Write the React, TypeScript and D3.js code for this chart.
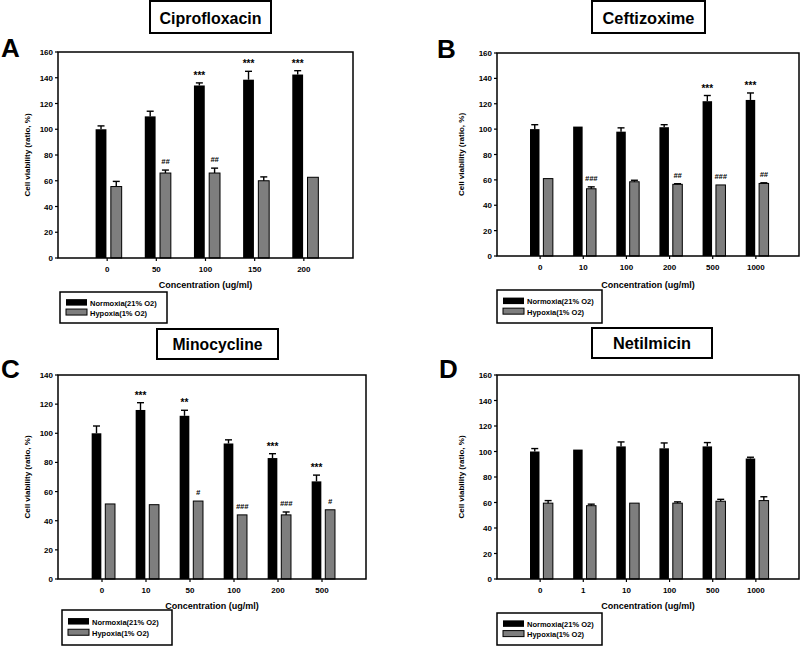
import React from "react";
import * as d3 from "d3";

// ---------- data ----------
const catsA = ["0", "50", "100", "150", "200"];
const normA = [100, 110, 134, 138.5, 142.5];
const normErrA = [2.6, 4, 2, 6.5, 3];
const hypA = [55.5, 66, 66, 60, 62.7];
const hypErrA = [4, 2.3, 3.8, 3, 0];
const normAnnA = ["", "", "***", "***", "***"];
const hypAnnA = ["", "##", "##", "", ""];

const catsB = ["0", "10", "100", "200", "500", "1000"];
const normB = [100, 102, 98, 101.5, 122, 123];
const normErrB = [3.5, 0, 3, 2, 4.5, 5.5];
const hypB = [61, 53, 58.5, 56.5, 56, 57.2];
const hypErrB = [0, 1.5, 1.2, 0.5, 0, 0.5];
const normAnnB = ["", "", "", "", "***", "***"];
const hypAnnB = ["", "###", "", "##", "###", "##"];

const catsC = ["0", "10", "50", "100", "200", "500"];
const normC = [100, 116, 112, 93, 83, 67];
const normErrC = [5, 5, 3.8, 2.5, 3, 4.3];
const hypC = [51.5, 51, 53.5, 44, 44, 47.5];
const hypErrC = [0, 0, 0, 0, 2, 0];
const normAnnC = ["", "***", "**", "", "***", "***"];
const hypAnnC = ["", "", "#", "###", "###", "#"];

const catsD = ["0", "1", "10", "100", "500", "1000"];
const normD = [100, 101.5, 104, 102.5, 104, 94.5];
const normErrD = [2.3, 0, 3.5, 4.2, 3, 1];
const hypD = [59.5, 57.5, 59.5, 59.5, 61, 61.5];
const hypErrD = [2, 1.2, 0, 1, 1.5, 3];
const normAnnD = ["", "", "", "", "", ""];
const hypAnnD = ["", "", "", "", "", ""];

const legendLabels = ["Normoxia(21% O2)", "Hypoxia(1% O2)"];
const xLabel = "Concentration (ug/ml)";
const yLabel = "Cell viability (ratio, %)";

const FONT = "'Liberation Sans', Arial, Helvetica, sans-serif";
const GRAY = "#7e7e7e";

type PanelProps = {
  title: string;
  letter: string;
  cats: string[];
  norm: number[];
  normErr: number[];
  hyp: number[];
  hypErr: number[];
  normAnn: string[];
  hypAnn: string[];
  ymax: number;
  plot: { x0: number; x1: number; y0: number; y1: number };
  titleBox: { x0: number; x1: number; y0: number; y1: number; tw: number };
  letterPos: { x: number; y: number };
  legend: { x0: number; x1: number; y0: number; y1: number };
  yLabelX: number;
  xLabelY: number;
};

function Panel(p: PanelProps) {
  const x = d3.scalePoint<string>().domain(p.cats).range([p.plot.x0, p.plot.x1]).padding(1);
  const y = d3.scaleLinear().domain([0, p.ymax]).range([p.plot.y1, p.plot.y0]);
  const step = x.step();
  const bw = step * 0.22;
  const ticks = d3.range(0, p.ymax + 1, 20);
  const capW = 3.5;
  const cx = (p.plot.x0 + p.plot.x1) / 2;
  const cy = (p.plot.y0 + p.plot.y1) / 2;

  const bars = (vals: number[], errs: number[], anns: string[], off: number, fill: string, isNorm: boolean) =>
    vals.map((v, i) => {
      const c = x(p.cats[i])!;
      const bx = c + off;
      const mid = bx + bw / 2;
      const top = y(v);
      const etop = y(v + errs[i]);
      return (
        <g key={(isNorm ? "n" : "h") + i}>
          <rect x={bx} y={top} width={bw} height={p.plot.y1 - top} fill={fill} stroke="#000" strokeWidth={isNorm ? 0 : 1} />
          {errs[i] > 0 && (
            <g stroke="#000" strokeWidth={1.4}>
              <line x1={mid} x2={mid} y1={top} y2={etop} />
              <line x1={mid - capW} x2={mid + capW} y1={etop} y2={etop} />
            </g>
          )}
          {anns[i] && (
            <text
              x={mid}
              y={isNorm ? etop - 4 : etop - 6}
              textAnchor="middle"
              fontSize={isNorm ? 10 : 7.5}
              fontWeight="bold"
              fontStyle={isNorm ? "normal" : "italic"}
              fontFamily={FONT}
            >
              {anns[i]}
            </text>
          )}
        </g>
      );
    });

  const lg = p.legend;
  const lh = lg.y1 - lg.y0;
  return (
    <g fontFamily={FONT}>
      {/* title */}
      <rect x={p.titleBox.x0} y={p.titleBox.y0} width={p.titleBox.x1 - p.titleBox.x0} height={p.titleBox.y1 - p.titleBox.y0} fill="#fff" stroke="#000" strokeWidth={2} />
      <text
        x={(p.titleBox.x0 + p.titleBox.x1) / 2}
        y={p.titleBox.y1 - 9}
        textAnchor="middle"
        fontSize={17}
        fontWeight="bold"
        textLength={p.titleBox.tw}
        lengthAdjust="spacingAndGlyphs"
      >
        {p.title}
      </text>
      <text x={p.letterPos.x} y={p.letterPos.y} fontSize={26} fontWeight="bold">
        {p.letter}
      </text>

      {/* bars */}
      {bars(p.norm, p.normErr, p.normAnn, -step * 0.235, "#000", true)}
      {bars(p.hyp, p.hypErr, p.hypAnn, step * 0.075, GRAY, false)}

      {/* frame */}
      <rect x={p.plot.x0} y={p.plot.y0} width={p.plot.x1 - p.plot.x0} height={p.plot.y1 - p.plot.y0} fill="none" stroke="#000" strokeWidth={1.5} />

      {/* y axis */}
      {ticks.map((t) => (
        <g key={"yt" + t}>
          <line x1={p.plot.x0 - 3} x2={p.plot.x0} y1={y(t)} y2={y(t)} stroke="#000" strokeWidth={1.2} />
          <text x={p.plot.x0 - 5} y={y(t) + 3} textAnchor="end" fontSize={8} fontWeight="bold">
            {t}
          </text>
        </g>
      ))}
      {/* x axis */}
      {p.cats.map((c) => (
        <g key={"xt" + c}>
          <line x1={x(c)!} x2={x(c)!} y1={p.plot.y1} y2={p.plot.y1 + 3} stroke="#000" strokeWidth={1.2} />
          <text x={x(c)!} y={p.plot.y1 + 14} textAnchor="middle" fontSize={8} fontWeight="bold">
            {c}
          </text>
        </g>
      ))}
      <text x={cx} y={p.xLabelY} textAnchor="middle" fontSize={9} fontWeight="bold">
        {xLabel}
      </text>
      <text transform={`translate(${p.yLabelX},${cy}) rotate(-90)`} textAnchor="middle" fontSize={8} fontWeight="bold">
        {yLabel}
      </text>

      {/* legend */}
      <rect x={lg.x0} y={lg.y0} width={lg.x1 - lg.x0} height={lh} fill="#fff" stroke="#000" strokeWidth={1.5} />
      <rect x={lg.x0 + 6} y={lg.y0 + lh * 0.23} width={21} height={6.5} fill="#000" />
      <rect x={lg.x0 + 6} y={lg.y0 + lh * 0.55} width={21} height={6} fill={GRAY} stroke="#000" strokeWidth={1} />
      <text x={lg.x0 + 30} y={lg.y0 + lh * 0.23 + 6.5} fontSize={7.5} fontWeight="bold">
        {legendLabels[0]}
      </text>
      <text x={lg.x0 + 30} y={lg.y0 + lh * 0.55 + 6.5} fontSize={7.5} fontWeight="bold">
        {legendLabels[1]}
      </text>
    </g>
  );
}

export default function App() {
  return (
    <svg width={800} height={646} style={{ position: "absolute", left: 0, top: 0, background: "#fff" }}>
      <rect x={0} y={0} width={800} height={646} fill="#fff" />
      <Panel
        title="Ciprofloxacin"
        letter="A"
        cats={catsA}
        norm={normA}
        normErr={normErrA}
        hyp={hypA}
        hypErr={hypErrA}
        normAnn={normAnnA}
        hypAnn={hypAnnA}
        ymax={160}
        plot={{ x0: 58, x1: 353, y0: 52, y1: 258 }}
        titleBox={{ x0: 150, x1: 271, y0: 1, y1: 33, tw: 102 }}
        letterPos={{ x: 1, y: 57 }}
        legend={{ x0: 60, x1: 167, y0: 292, y1: 323 }}
        yLabelX={30}
        xLabelY={288}
      />
      <Panel
        title="Ceftizoxime"
        letter="B"
        cats={catsB}
        norm={normB}
        normErr={normErrB}
        hyp={hypB}
        hypErr={hypErrB}
        normAnn={normAnnB}
        hypAnn={hypAnnB}
        ymax={160}
        plot={{ x0: 497, x1: 799, y0: 53, y1: 256 }}
        titleBox={{ x0: 592, x1: 705, y0: 1, y1: 33, tw: 92 }}
        letterPos={{ x: 437, y: 58 }}
        legend={{ x0: 497, x1: 602, y0: 290, y1: 323 }}
        yLabelX={464}
        xLabelY={288}
      />
      <Panel
        title="Minocycline"
        letter="C"
        cats={catsC}
        norm={normC}
        normErr={normErrC}
        hyp={hypC}
        hypErr={hypErrC}
        normAnn={normAnnC}
        hypAnn={hypAnnC}
        ymax={140}
        plot={{ x0: 58, x1: 366, y0: 375, y1: 579 }}
        titleBox={{ x0: 157, x1: 278, y0: 329, y1: 359, tw: 90 }}
        letterPos={{ x: 1, y: 378 }}
        legend={{ x0: 62, x1: 172, y0: 610, y1: 645 }}
        yLabelX={30}
        xLabelY={609}
      />
      <Panel
        title="Netilmicin"
        letter="D"
        cats={catsD}
        norm={normD}
        normErr={normErrD}
        hyp={hypD}
        hypErr={hypErrD}
        normAnn={normAnnD}
        hypAnn={hypAnnD}
        ymax={160}
        plot={{ x0: 497, x1: 799, y0: 375, y1: 579 }}
        titleBox={{ x0: 592, x1: 712, y0: 328, y1: 358, tw: 78 }}
        letterPos={{ x: 439, y: 378 }}
        legend={{ x0: 497, x1: 602, y0: 613, y1: 645 }}
        yLabelX={464}
        xLabelY={609}
      />
    </svg>
  );
}
